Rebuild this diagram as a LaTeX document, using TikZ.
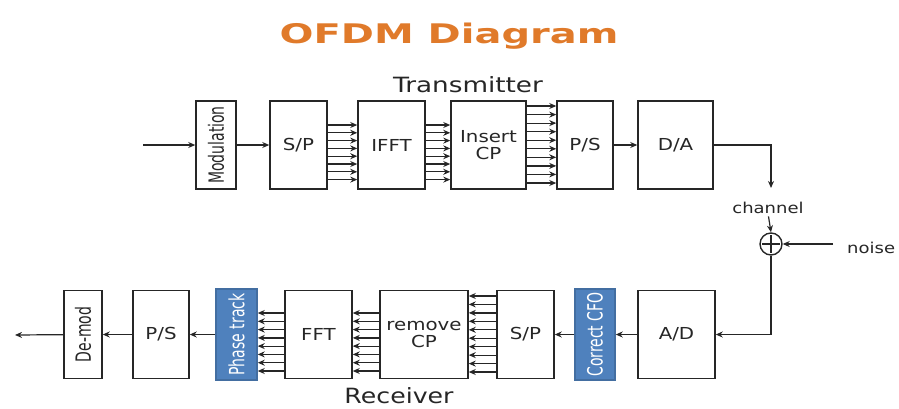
\documentclass[tikz,border=0pt]{standalone}
\usepackage{fontspec}
\setmainfont{DejaVu Sans}
\usetikzlibrary{arrows.meta}
\definecolor{ttl}{HTML}{E07A2A}
\definecolor{blu}{HTML}{4F81BD}
\definecolor{ink}{HTML}{262626}
\newcommand{\wx}[1]{\scalebox{1.2}[1]{#1}}
\newcommand{\vrt}[1]{\rotatebox{90}{\scalebox{1}[1.5]{\fontsize{14}{16}\selectfont #1}}}
\begin{document}
\begin{tikzpicture}[x=1pt,y=-1pt,
  box/.style={draw=ink,line width=1.5pt,minimum height=88pt,inner sep=0pt,
    font=\fontsize{16.5}{19}\selectfont,align=center,text=ink},
  bluebox/.style={box,fill=blu,draw=blu!85!black,minimum height=91pt,text=white},
  arr/.style={draw=ink,line width=1.2pt,-{Stealth[length=7pt,width=6pt]}},
  lbl/.style={text=ink,inner sep=0pt}]
\useasboundingbox (0,0) rectangle (899,408);

% title and captions
\node[lbl,text=ttl,anchor=base,font=\bfseries\fontsize{27}{30}\selectfont] (title) at (449,43) {\scalebox{1.48}[1]{OFDM Diagram}};
\node[lbl,anchor=base,font=\fontsize{21}{24}\selectfont] (tx) at (468,92) {\scalebox{1.25}[1]{Transmitter}};
\node[lbl,anchor=base,font=\fontsize{21}{24}\selectfont] (rx) at (399,403) {\scalebox{1.2}[1]{Receiver}};

% transmitter row
\node[box,minimum width=40pt] (mod) at (216,145) {\vrt{Modulation}};
\node[box,minimum width=57pt] (sp1) at (298.5,145) {\wx{S/P}};
\node[box,minimum width=67pt] (ifft) at (391.5,145) {\wx{IFFT}};
\node[box,minimum width=75pt] (icp) at (488.5,145) {\wx{Insert}\\[-2pt]\wx{CP}};
\node[box,minimum width=56pt] (ps1) at (585,145) {\wx{P/S}};
\node[box,minimum width=75pt] (da) at (675.5,145) {\wx{D/A}};

% receiver row
\node[box,minimum width=77pt] (ad) at (676.5,334.5) {\wx{A/D}};
\node[bluebox,minimum width=40pt] (cfo) at (595,334.5) {\vrt{Correct CFO}};
\node[box,minimum width=57pt] (sp2) at (525.5,334.5) {\wx{S/P}};
\node[box,minimum width=88pt] (rcp) at (424,334.5) {\wx{remove}\\[-2pt]\wx{CP}};
\node[box,minimum width=67pt] (fft) at (318.5,334.5) {\wx{FFT}};
\node[bluebox,minimum width=41pt] (pht) at (236.5,334.5) {\vrt{Phase track}};
\node[box,minimum width=56pt] (ps2) at (161,334.5) {\wx{P/S}};
\node[box,minimum width=38pt] (dmod) at (83,334.5) {\vrt{De-mod}};

% transmitter connectors
\coordinate (in) at (143,145);
\draw[arr] (in) -- (mod);
\draw[arr] (mod) -- (sp1);
\foreach \y in {125.0,132.8,140.6,148.4,156.2,164.0,171.8,179.6}{
  \draw[arr] (sp1.east |- 0,\y) -- (ifft.west |- 0,\y);
  \draw[arr] (ifft.east |- 0,\y) -- (icp.west |- 0,\y);
}
\foreach \y in {106,114.6,123.1,131.7,140.2,148.8,157.3,165.9,174.4,183}{
  \draw[arr] (icp.east |- 0,\y) -- (ps1.west |- 0,\y);
}
\draw[arr] (ps1) -- (da);

% channel and noise
\coordinate (drop) at (771,188);
\draw[arr] (da.east) -| (drop);
\node[lbl,anchor=base,font=\fontsize{15}{17}\selectfont] (chan) at (768,213) {\wx{channel}};
\node[circle,draw=ink,line width=1.4pt,minimum size=22pt,inner sep=0pt] (sum) at (771,244) {};
\draw[ink,line width=1.4pt,shorten <=3pt,shorten >=3pt] (sum.north) -- (sum.south);
\draw[ink,line width=1.4pt,shorten <=3pt,shorten >=3pt] (sum.west) -- (sum.east);
\draw[arr,shorten <=3pt] (chan.south) -- (sum.north);
\node[lbl,anchor=base west,font=\fontsize{15}{17}\selectfont] (noise) at (847,253) {\wx{noise}};
\draw[arr] (833,244) -- (sum.east);
\draw[arr] (sum.south) |- (ad.east);

% receiver connectors
\draw[arr] (ad) -- (cfo);
\draw[arr] (cfo) -- (sp2);
\foreach \y in {296,304.4,312.9,321.3,329.8,338.2,346.7,355.1,363.6,372}{
  \draw[arr] (sp2.west |- 0,\y) -- (rcp.east |- 0,\y);
}
\foreach \y in {313,321.3,329.6,337.9,346.1,354.4,362.7,371}{
  \draw[arr] (rcp.west |- 0,\y) -- (fft.east |- 0,\y);
  \draw[arr] (fft.west |- 0,\y) -- (pht.east |- 0,\y);
}
\draw[arr] (pht) -- (ps2);
\draw[arr] (ps2) -- (dmod);
\coordinate (out) at (15,335);
\draw[arr] (dmod) -- (out);
\end{tikzpicture}
\end{document}
